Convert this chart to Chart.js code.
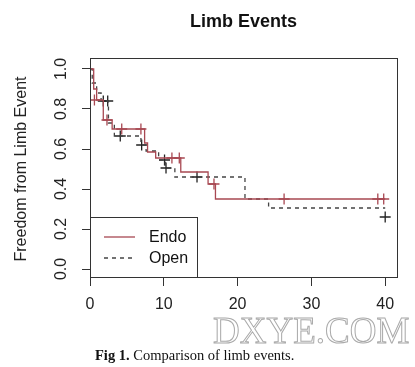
<!DOCTYPE html>
<html>
<head>
<meta charset="utf-8">
<script src="https://cdn.jsdelivr.net/npm/chart.js@4.4.0/dist/chart.umd.min.js"></script>
<style>
  body { margin: 0; background: #fff; }
  #wrap { position: relative; width: 415px; height: 367px; overflow: hidden; }
  #c { position: absolute; left: 0; top: 0; }
  #mark { position: absolute; left: 213px; top: 309px; font-family: "Liberation Serif"; font-size: 37px; color: #fff; -webkit-text-stroke: 1px #aaa; }
  #cap { position: absolute; left: 95px; top: 347px; font-family: "Liberation Serif"; font-size: 14.5px; color: #111; white-space: nowrap; }
</style>
</head>
<body>
<div id="wrap">
  <canvas id="c" width="415" height="367"></canvas>
  <div id="mark">DXYE.COM</div>
  <div id="cap"><b>Fig 1.</b> Comparison of limb events.</div>
</div>
<script>
// Kaplan-Meier steps (months vs. freedom from limb event)
const endoTimes = [0, 0.5, 0.9, 1.8, 3.0, 7.4, 7.8, 8.9, 12.3, 16.0, 17.0, 40];
const endoSurv  = [1.0, 0.90, 0.845, 0.745, 0.70, 0.63, 0.585, 0.555, 0.485, 0.425, 0.35, 0.35];
const openTimes = [0, 0.3, 0.9, 1.5, 2.5, 3.3, 6.9, 7.6, 9.3, 10.2, 11.5, 21.0, 24.2, 40];
const openSurv  = [1.0, 0.93, 0.88, 0.84, 0.73, 0.665, 0.62, 0.59, 0.545, 0.505, 0.46, 0.35, 0.305, 0.305];

// censoring marks (+)
const endoCensT = [0.6, 2.3, 4.3, 6.9, 11.1, 12.1, 16.8, 26.3, 39.0, 39.8];
const endoCensS = [0.845, 0.745, 0.70, 0.70, 0.555, 0.555, 0.425, 0.35, 0.35, 0.35];
const openCensT = [1.8, 2.4, 4.1, 7.0, 10.1, 10.3, 14.5, 40];
const openCensS = [0.84, 0.84, 0.665, 0.62, 0.545, 0.505, 0.46, 0.26];

const xTicks = [0, 10, 20, 30, 40];
const yTicks = [0, 0.2, 0.4, 0.6, 0.8, 1.0];

const endoCol = 'rgb(168,72,82)';
const openCol = '#444';
const axisCol = '#333';
const sans = 'Liberation Sans';

function pts(xs, ys) {
  return xs.map((x, i) => ({ x: x, y: ys[i] }));
}

// R-like decorations: box, rotated y labels, title, legend
const rStyle = {
  id: 'rStyle',
  afterDraw(chart) {
    const ctx = chart.ctx;
    const a = chart.chartArea;
    const ys = chart.scales.y;
    ctx.save();
    ctx.strokeStyle = axisCol;
    ctx.lineWidth = 1;
    ctx.strokeRect(a.left + 0.5, a.top + 0.5, a.right - a.left, a.bottom - a.top);

    ctx.fillStyle = '#222';
    ctx.textAlign = 'center';
    ctx.textBaseline = 'middle';
    ctx.font = '16px ' + sans;
    yTicks.forEach(v => {
      const py = ys.getPixelForValue(v);
      ctx.save();
      ctx.translate(62, py);
      ctx.rotate(-Math.PI / 2);
      ctx.fillText(v.toFixed(1), 0, 0);
      ctx.restore();
    });

    ctx.save();
    ctx.translate(22, (ys.getPixelForValue(0) + ys.getPixelForValue(1)) / 2);
    ctx.rotate(-Math.PI / 2);
    ctx.font = '16px ' + sans;
    ctx.fillText('Freedom from Limb Event', 0, 0);
    ctx.restore();

    ctx.font = 'bold 18px ' + sans;
    ctx.fillStyle = '#111';
    ctx.fillText('Limb Events', (a.left + a.right) / 2, 22);

    // legend
    const lx = a.left, ly = 217, lw = 107, lh = a.bottom - 217;
    ctx.fillStyle = '#fff';
    ctx.fillRect(lx, ly, lw, lh);
    ctx.strokeStyle = axisCol;
    ctx.strokeRect(lx + 0.5, ly + 0.5, lw, lh);
    const items = chart.data.datasets.filter(d => d.showLine);
    items.forEach((d, i) => {
      const y = ly + 20 + i * 21;
      ctx.strokeStyle = d.borderColor;
      ctx.lineWidth = d.borderWidth;
      ctx.setLineDash(d.borderDash || []);
      ctx.beginPath();
      ctx.moveTo(lx + 14, y);
      ctx.lineTo(lx + 45, y);
      ctx.stroke();
      ctx.setLineDash([]);
      ctx.fillStyle = '#111';
      ctx.textAlign = 'left';
      ctx.font = '16px ' + sans;
      ctx.fillText(d.label, lx + 59, y + 1);
    });
    ctx.restore();
  }
};

new Chart(document.getElementById('c'), {
  type: 'scatter',
  data: {
    datasets: [
      { label: 'Endo', data: pts(endoTimes, endoSurv), showLine: true, stepped: 'before',
        borderColor: endoCol, borderWidth: 1.3, pointRadius: 0, fill: false },
      { label: 'Open', data: pts(openTimes, openSurv), showLine: true, stepped: 'before',
        borderColor: openCol, borderWidth: 1.3, borderDash: [4, 4], pointRadius: 0, fill: false },
      { label: 'Endo censored', data: pts(endoCensT, endoCensS), showLine: false,
        pointStyle: 'cross', pointRadius: 5.5, borderColor: endoCol, borderWidth: 1.3 },
      { label: 'Open censored', data: pts(openCensT, openCensS), showLine: false,
        pointStyle: 'cross', pointRadius: 5.5, borderColor: '#222', borderWidth: 1.3 }
    ]
  },
  options: {
    responsive: false,
    animation: false,
    layout: { padding: { top: 58, right: 18, left: 0, bottom: 0 } },
    plugins: { legend: { display: false }, tooltip: { enabled: false } },
    scales: {
      x: {
        type: 'linear', min: 0, max: 41.6,
        afterBuildTicks: s => { s.ticks = xTicks.map(v => ({ value: v })); },
        afterFit: s => { s.height = 90; },
        grid: { drawOnChartArea: false, drawTicks: true, tickLength: 9, color: axisCol },
        border: { display: false },
        ticks: { font: { family: sans, size: 16 }, color: '#222', padding: 9, maxRotation: 0 }
      },
      y: {
        type: 'linear', min: -0.04, max: 1.055,
        afterBuildTicks: s => { s.ticks = yTicks.map(v => ({ value: v })); },
        afterFit: s => { s.width = 90; },
        grid: { drawOnChartArea: false, drawTicks: true, tickLength: 8, color: axisCol },
        border: { display: false },
        ticks: { display: false }
      }
    }
  },
  plugins: [rStyle]
});
</script>
</body>
</html>
